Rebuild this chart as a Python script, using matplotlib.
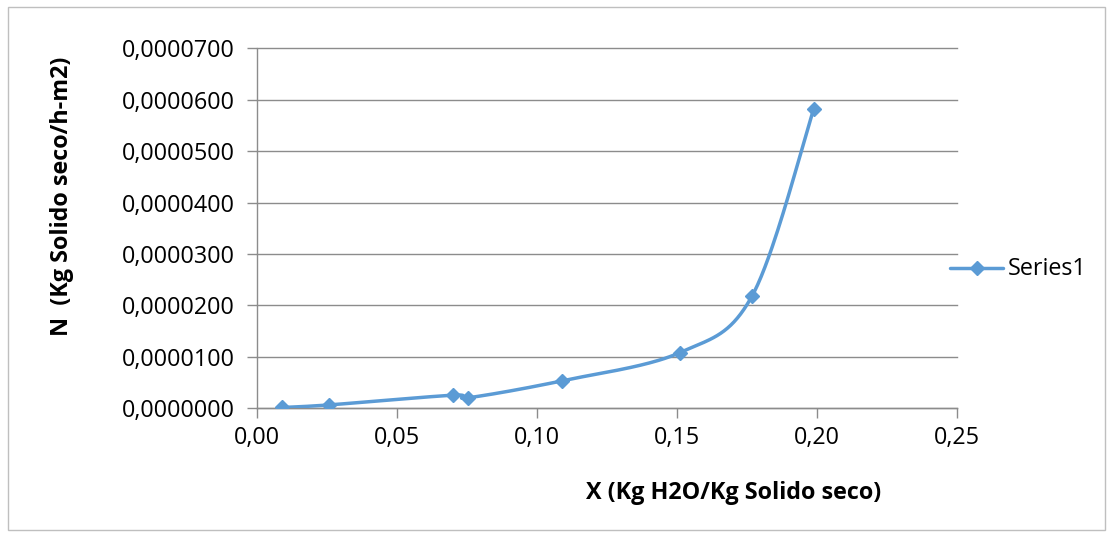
import numpy as np
import matplotlib.pyplot as plt
from matplotlib.patches import Rectangle
from matplotlib.ticker import FuncFormatter, MultipleLocator

# moisture content X and drying rate N
x_vals = [0.0088, 0.0257, 0.0701, 0.0755, 0.1090, 0.1511, 0.1769, 0.1988]
n_vals = [0.0000001, 0.0000006, 0.0000025, 0.0000020, 0.0000053, 0.0000108, 0.0000219, 0.0000582]
series_name = "Series1"
x_title = "X (Kg H2O/Kg Solido seco)"
y_title = "N  (Kg Solido seco/h-m2)"

blue = "#5B9BD5"
grid_gray = "#8C8C8C"


def smooth(xs, ys, steps=40):
    # cubic bezier through each point, tangents from neighbours (spreadsheet-style smoothing)
    p = np.column_stack([xs, ys])
    scale = np.array([0.25, 0.00007])
    p = p / scale
    out = []
    n = len(p)
    for i in range(n - 1):
        p0 = p[max(i - 1, 0)]
        p1 = p[i]
        p2 = p[i + 1]
        p3 = p[min(i + 2, n - 1)]
        c1 = p1 + (p2 - p0) / 6
        c2 = p2 - (p3 - p1) / 6
        t = np.linspace(0, 1, steps)[:, None]
        seg = ((1 - t) ** 3 * p1 + 3 * (1 - t) ** 2 * t * c1
               + 3 * (1 - t) * t ** 2 * c2 + t ** 3 * p2)
        out.append(seg if i == 0 else seg[1:])
    out = np.vstack(out) * scale
    return out[:, 0], out[:, 1]


plt.rcParams['font.family'] = ['Open Sans', 'DejaVu Sans']
fs = 16.8

W, H = 1109, 534
fig = plt.figure(figsize=(W / 100, H / 100), dpi=100)
fig.patches.append(Rectangle((8 / W, 4 / H), 1097 / W, 523 / H, transform=fig.transFigure,
                             fill=False, edgecolor="#BFBFBF", linewidth=1))

ax = fig.add_axes([257 / W, 1 - 408 / H, 700 / W, (408 - 48.5) / H])

sx, sy = smooth(x_vals, n_vals)
ax.plot(sx, sy, color=blue, linewidth=2.5, solid_capstyle='round', zorder=3)
ax.plot(x_vals, n_vals, linestyle='none', marker='D', markersize=7.5,
        color=blue, zorder=4)

ax.set_xlim(0, 0.25)
ax.set_ylim(0, 0.00007)
ax.xaxis.set_major_locator(MultipleLocator(0.05))
ax.yaxis.set_major_locator(MultipleLocator(0.00001))
ax.xaxis.set_major_formatter(FuncFormatter(lambda v, _: f"{v:.2f}".replace(".", ",")))
ax.yaxis.set_major_formatter(FuncFormatter(lambda v, _: f"{v:.7f}".replace(".", ",")))

ax.grid(axis='y', color=grid_gray, linewidth=1)
for gl in ax.get_ygridlines():
    gl.set_clip_on(False)
ax.set_axisbelow(True)
for side in ("top", "right"):
    ax.spines[side].set_visible(False)
for side in ("left", "bottom"):
    ax.spines[side].set_color(grid_gray)
    ax.spines[side].set_linewidth(1)
ax.tick_params(axis='both', colors=grid_gray, length=7, width=1, direction='out',
               labelcolor='black', labelsize=fs)
ax.tick_params(axis='y', pad=9)
ax.tick_params(axis='x', pad=6)

fig.text(62 / W, 1 - 196 / H, y_title, rotation=90, ha='center', va='center',
         fontsize=fs, fontweight='bold')
fig.text(734 / W, 1 - 493 / H, x_title, ha='center', va='center',
         fontsize=fs, fontweight='bold')

# legend entry to the right of the plot
leg_ax = fig.add_axes([948 / W, 1 - 282 / H, 160 / W, 28 / H])
leg_ax.set_xlim(0, 160)
leg_ax.set_ylim(0, 28)
leg_ax.axis('off')
leg_ax.plot([2, 55], [14, 14], color=blue, linewidth=2.5, solid_capstyle='round')
leg_ax.plot([28.5], [14], marker='D', markersize=7.5, color=blue, linestyle='none')
leg_ax.text(60, 13, series_name, ha='left', va='center', fontsize=fs)

fig.savefig("out.png", dpi=100)
